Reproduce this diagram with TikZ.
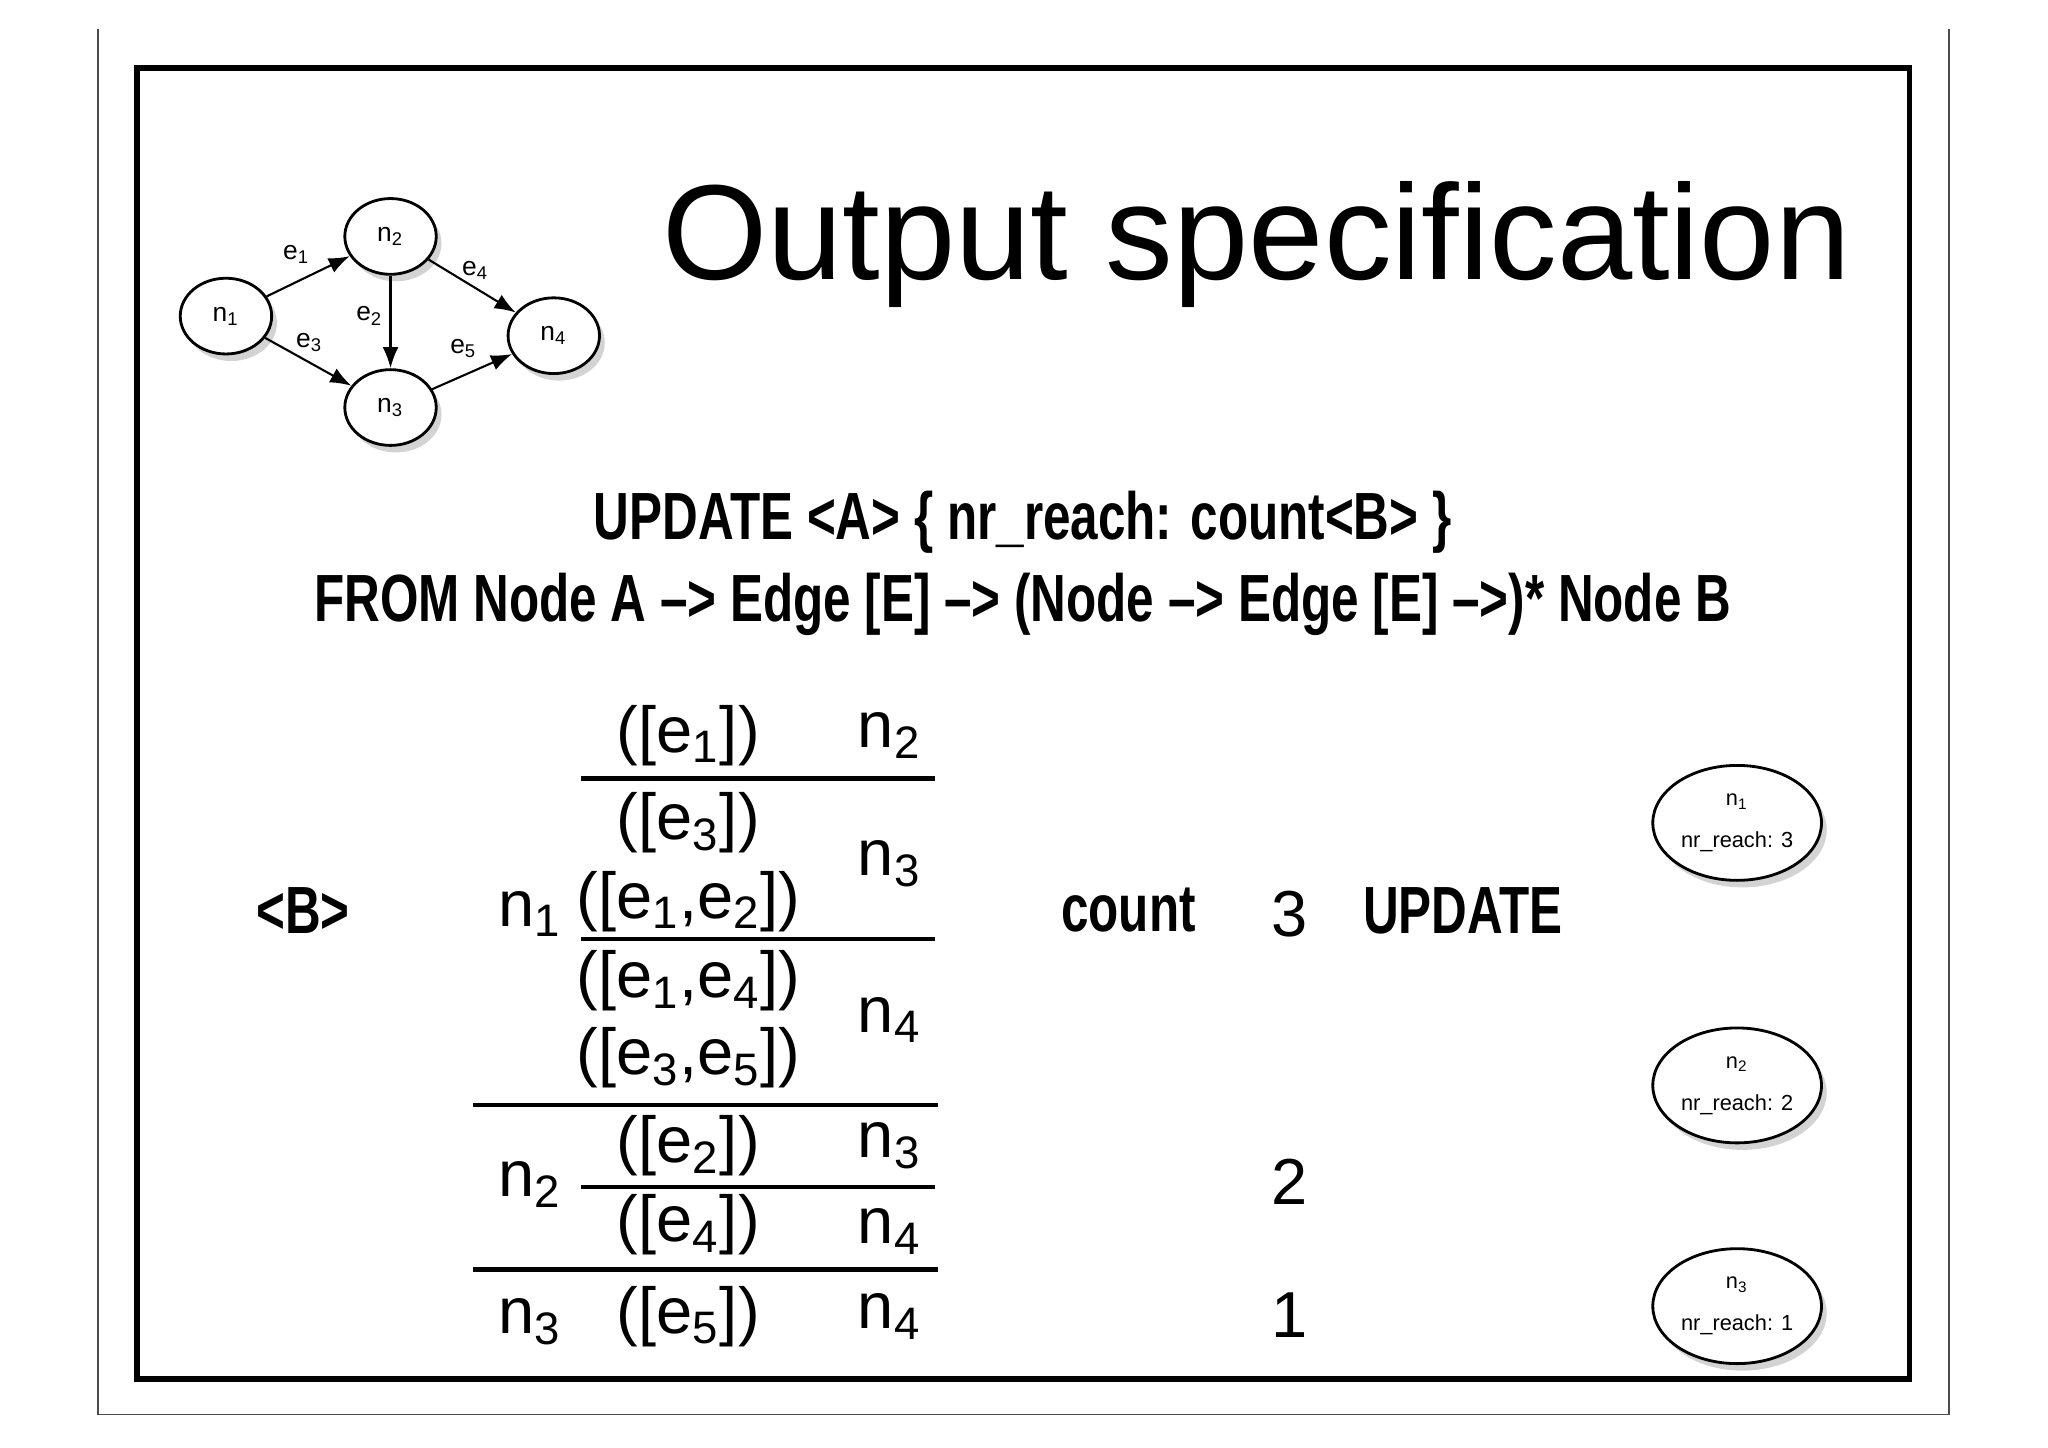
\documentclass[tikz,border=0pt]{standalone}
\usepackage{fontspec}
\setmainfont{Liberation Sans}
\newfontfamily\cond[FakeStretch=0.74,BoldFont={Liberation Sans Bold}]{Liberation Sans}
\usetikzlibrary{shadows,arrows.meta,shapes.geometric}
\begin{document}
\begin{tikzpicture}[x=0.013061cm,y=-0.013061cm,
  gnode/.style={ellipse,draw,line width=0.8pt,fill=white,minimum width=70\unitlength,minimum height=58\unitlength,drop shadow={opacity=0.35,shadow xshift=1.5pt,shadow yshift=-2pt},font=\fontsize{7.5}{9}\selectfont},
  rnode/.style={ellipse,draw,line width=0.8pt,fill=white,minimum width=128\unitlength,minimum height=88\unitlength,inner sep=1pt,drop shadow={opacity=0.35,shadow xshift=1.5pt,shadow yshift=-2pt},font=\fontsize{6.2}{10}\selectfont,align=center},
  garr/.style={-{Latex[length=6pt,width=4.5pt]},line width=0.6pt},
  elab/.style={font=\fontsize{7.5}{9}\selectfont,inner sep=0pt},
  query/.style={font=\cond\bfseries\fontsize{19}{23}\selectfont},
  tab/.style={font=\fontsize{18.5}{22}\selectfont,inner sep=1pt},
  rule/.style={line width=1.2pt}]
\setlength{\unitlength}{0.013061cm}
\useasboundingbox (0,0) rectangle (1568,1108);
% frames
\draw[line width=0.5pt,black!70] (75,22) coordinate (ol1) -- (75,1083) coordinate (ol2) -- (1492,1083) coordinate (ol3) -- (1492,22) coordinate (ol4);
\draw[line width=1.6pt] (105,52) rectangle (1462,1056);
% title
\node[font=\fontsize{38.5}{46}\selectfont] (title) at (962,187) {Output specification};
% graph
\node[gnode] (g1) at (173,242) {n\textsubscript{1}};
\node[gnode] (g2) at (299,181) {n\textsubscript{2}};
\node[gnode] (g3) at (299,312) {n\textsubscript{3}};
\node[gnode] (g4) at (424,257) {n\textsubscript{4}};
\draw[garr] (g1) -- (g2);
\draw[garr] (g2) -- (g3);
\draw[garr] (g1) -- (g3);
\draw[garr] (g2) -- (g4);
\draw[garr] (g3) -- (g4);
\node[elab] (l1) at (227,195) {e\textsubscript{1}};
\node[elab] (l2) at (283,242) {e\textsubscript{2}};
\node[elab] (l3) at (237,262) {e\textsubscript{3}};
\node[elab] (l4) at (364,207) {e\textsubscript{4}};
\node[elab] (l5) at (355,267) {e\textsubscript{5}};
% query
\node[query] (q1) at (783,400) {UPDATE <A> \{ nr\_reach: count<B> \}};
\node[query] (q2) at (783,463) {FROM Node A –> Edge [E] –> (Node –> Edge [E] –>)* Node B};
% table
\node[query] (b) at (232,697) {<B>};
\node[tab] (tn1) at (406,700) {n\textsubscript{1}};
\node[tab] (tn2) at (406,907) {n\textsubscript{2}};
\node[tab] (tn3) at (406,1012) {n\textsubscript{3}};
\node[tab] (p1) at (527,563) {([e\textsubscript{1}])};
\node[tab] (d1) at (681,563) {n\textsubscript{2}};
\node[tab] (p2) at (527,630) {([e\textsubscript{3}])};
\node[tab] (p3) at (527,690) {([e\textsubscript{1},e\textsubscript{2}])};
\node[tab] (d2) at (681,661) {n\textsubscript{3}};
\node[tab] (p4) at (527,751) {([e\textsubscript{1},e\textsubscript{4}])};
\node[tab] (p5) at (527,810) {([e\textsubscript{3},e\textsubscript{5}])};
\node[tab] (d3) at (681,781) {n\textsubscript{4}};
\node[tab] (p6) at (527,877) {([e\textsubscript{2}])};
\node[tab] (d4) at (681,877) {n\textsubscript{3}};
\node[tab] (p7) at (527,938) {([e\textsubscript{4}])};
\node[tab] (d5) at (681,943) {n\textsubscript{4}};
\node[tab] (p8) at (527,1008) {([e\textsubscript{5}])};
\node[tab] (d6) at (681,1008) {n\textsubscript{4}};
\draw[rule] (445,596) -- (716,596);
\draw[rule] (445,719) -- (716,719);
\draw[rule] (362,846) -- (718,846);
\draw[rule] (445,909) -- (716,909);
\draw[rule] (362,972) -- (718,972);
% count / update
\node[query] (cnt) at (864,697) {count};
\node[tab] (c3) at (987,700) {3};
\node[query] (upd) at (1120,697) {UPDATE};
\node[tab] (c2) at (987,905) {2};
\node[tab] (c1) at (987,1007) {1};
% result nodes
\node[rnode] (r1) at (1330,630) {n\textsubscript{1}\\[2pt]nr\_reach: 3};
\node[rnode] (r2) at (1330,831) {n\textsubscript{2}\\[2pt]nr\_reach: 2};
\node[rnode] (r3) at (1330,1000) {n\textsubscript{3}\\[2pt]nr\_reach: 1};
\end{tikzpicture}
\end{document}
